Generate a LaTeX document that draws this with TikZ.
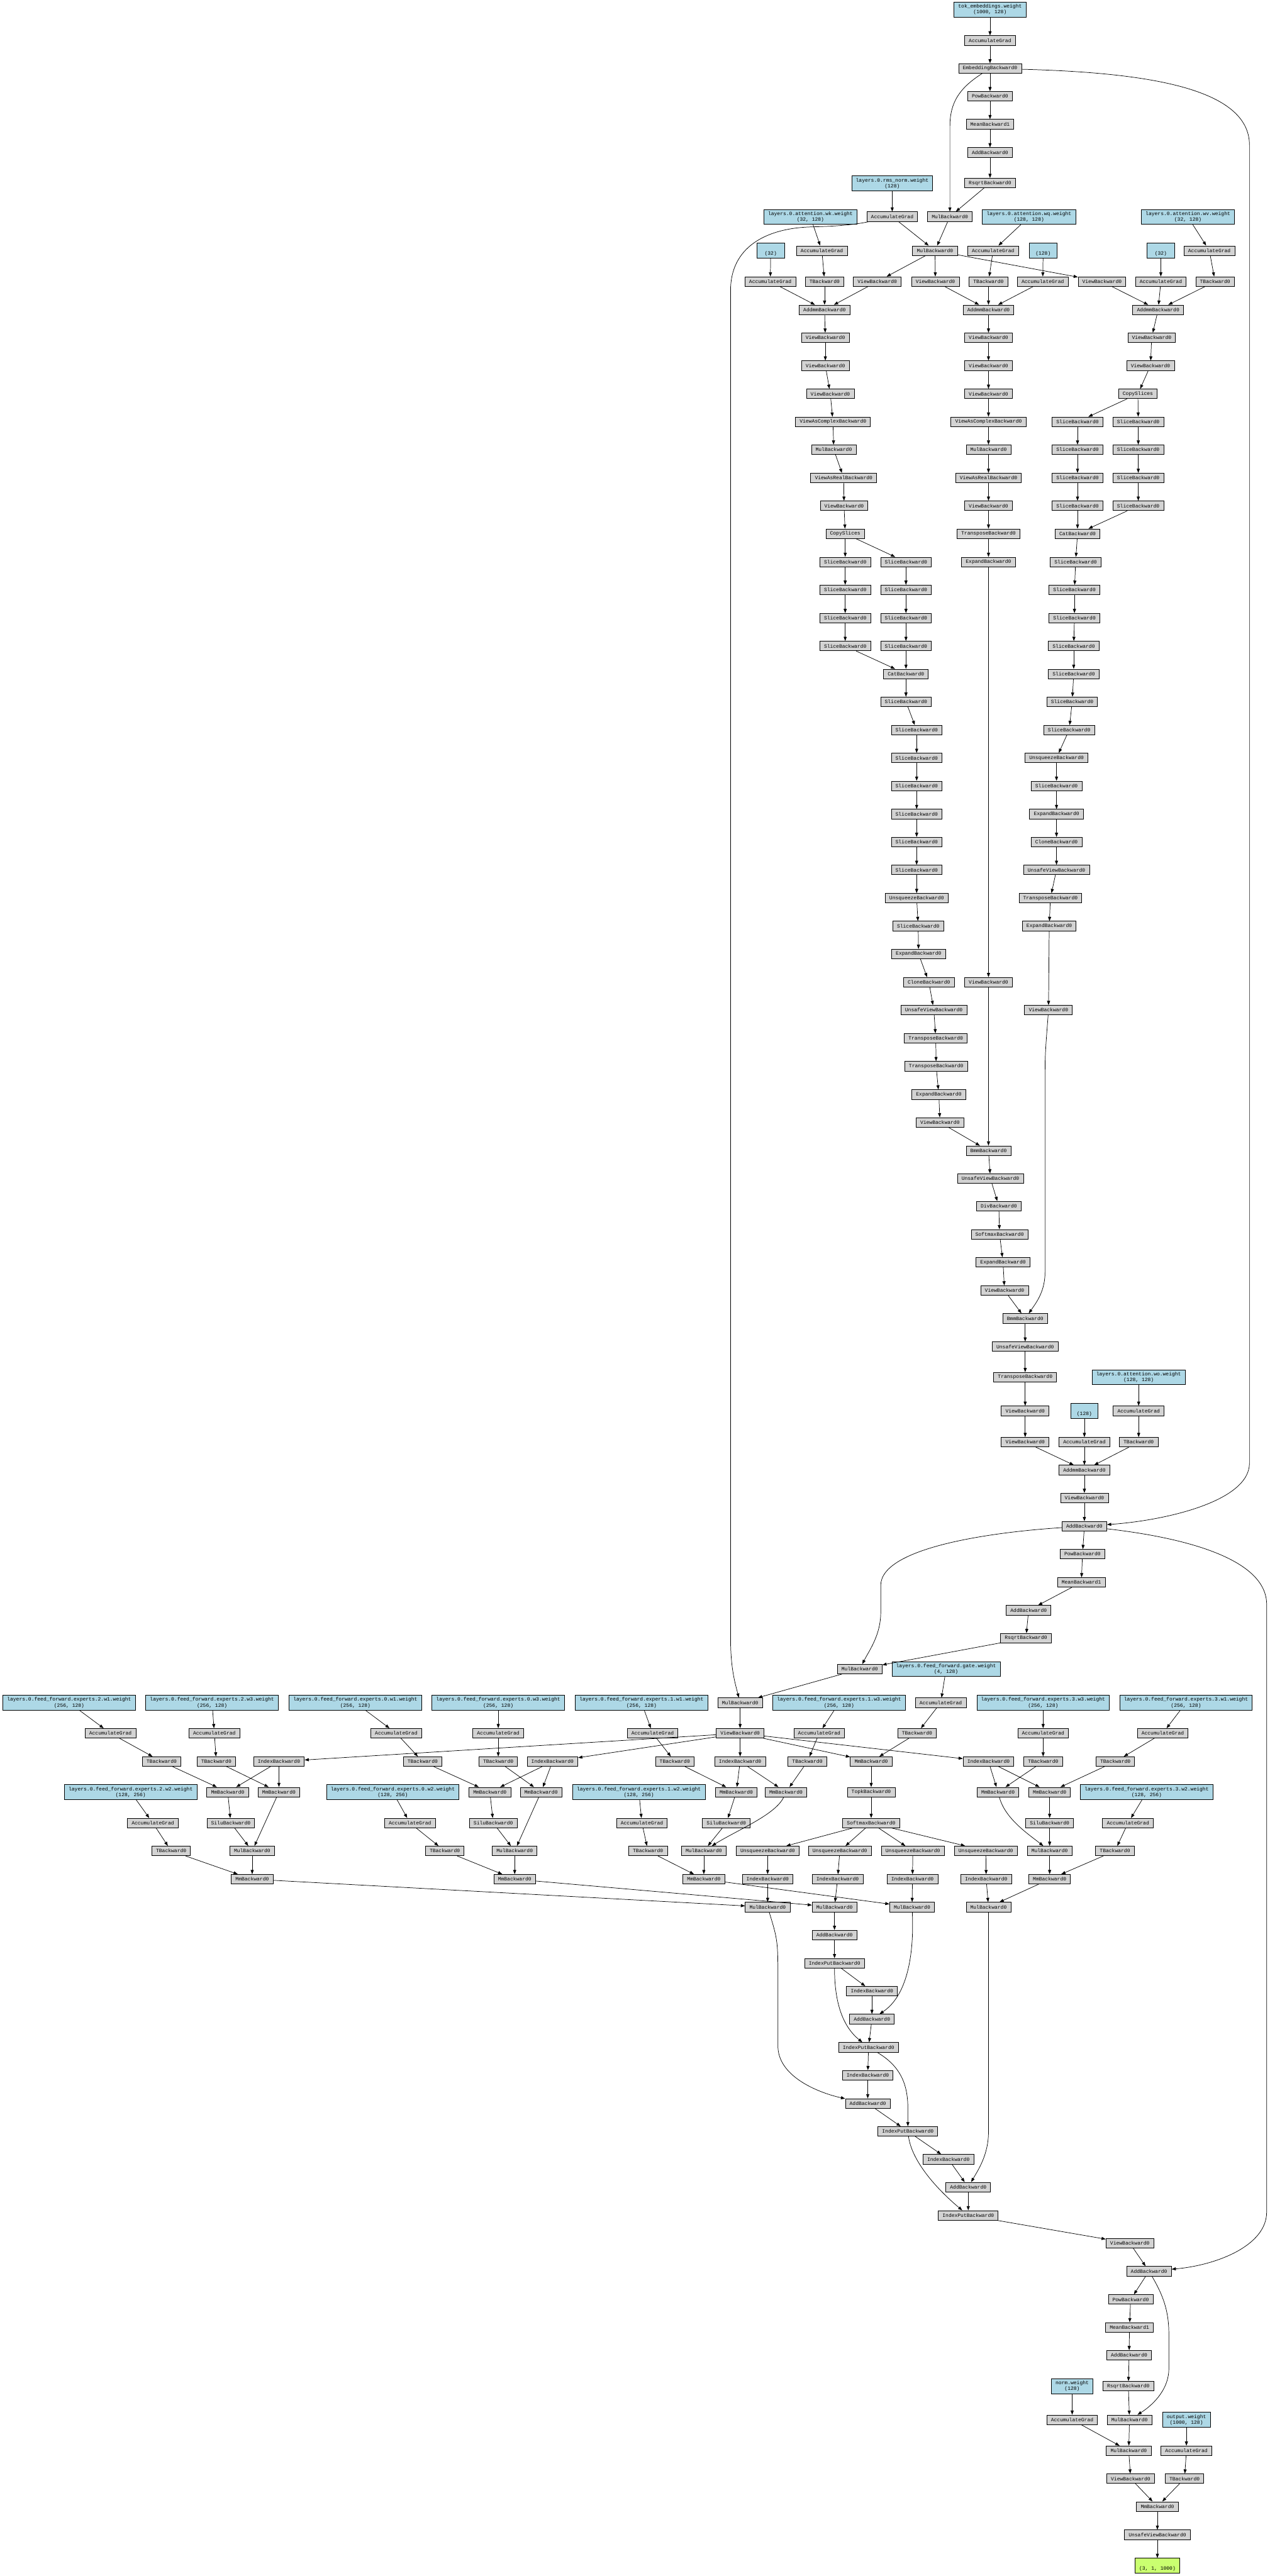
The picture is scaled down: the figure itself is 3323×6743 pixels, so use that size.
\documentclass[tikz,border=0pt]{standalone}
\usepackage{fontspec}
\newfontfamily\gvfont{Liberation Mono}
\usetikzlibrary{arrows.meta}
\definecolor{gvblue}{HTML}{ADD8E6}
\definecolor{gvgray}{HTML}{D3D3D3}
\definecolor{gvgreen}{HTML}{CAFF70}
\tikzset{
  gv/.style={draw, line width=1.3pt, fill=gvgray, font=\gvfont\fontsize{13.2}{15}\selectfont,
    inner xsep=11pt, inner ysep=0pt, minimum height=25pt},
  gb/.style={gv, fill=gvblue, align=center, minimum height=39pt, minimum width=72pt},
  gg/.style={gb, fill=gvgreen},
  e/.style={-{Triangle[length=11pt,width=8pt]}, line width=1.2pt}
}
\newcommand\gvn[4]{\node[gv] (#1) at (#2,#3) {#4};}
\newcommand\gvb[4]{\node[gb] (#1) at (#2,#3) {#4};}
\newcommand\gvw[4]{\gvb{#1}{#2}{#3}{layers.0.feed\_forward.experts.#4.weight\\(256, 128)}}
\newcommand\gvv[4]{\gvb{#1}{#2}{#3}{layers.0.feed\_forward.experts.#4.weight\\(128, 256)}}
\begin{document}
\begin{tikzpicture}[x=1pt,y=-1pt]
\useasboundingbox[fill=white] (0,0) rectangle (3323,6743);
% ---------------- top
\gvb{tok}{2591}{25}{tok\_embeddings.weight\\(1000, 128)}
\gvn{agtok}{2591}{106}{AccumulateGrad}
\gvn{emb}{2591}{179}{EmbeddingBackward0}
\gvn{pow1}{2591}{252}{PowBackward0}
\gvn{mean1}{2591}{325}{MeanBackward1}
\gvn{add1}{2591}{399}{AddBackward0}
\gvn{rsqrt1}{2591}{479}{RsqrtBackward0}
\gvb{rmsw}{2335}{480}{layers.0.rms\_norm.weight\\(128)}
\gvn{agrms}{2335}{567}{AccumulateGrad}
\gvn{mul1}{2486}{567}{MulBackward0}
\gvb{wkw}{2121}{568}{layers.0.attention.wk.weight\\(32, 128)}
\gvb{wqw}{2693}{568}{layers.0.attention.wq.weight\\(128, 128)}
\gvb{wvw}{3109}{568}{layers.0.attention.wv.weight\\(32, 128)}
\gvn{mul2}{2447}{656}{MulBackward0}
\gvn{agwk}{2151}{656}{AccumulateGrad}
\gvn{agwq}{2599}{656}{AccumulateGrad}
\gvn{agwv}{3165}{656}{AccumulateGrad}
\gvb{ba}{2017}{656}{\strut\\(32)}
\gvb{bq}{2730}{656}{\strut\\(128)}
\gvb{bv}{3038}{656}{\strut\\(32)}
\gvn{agba}{2016}{737}{AccumulateGrad}
\gvn{twk}{2158}{737}{TBackward0}
\gvn{viewk}{2296}{737}{ViewBackward0}
\gvn{viewq}{2448}{737}{ViewBackward0}
\gvn{twq}{2587}{737}{TBackward0}
\gvn{agbq}{2729}{737}{AccumulateGrad}
\gvn{viewv}{2884}{737}{ViewBackward0}
\gvn{agbv}{3038}{737}{AccumulateGrad}
\gvn{twv}{3180}{737}{TBackward0}
\gvn{addmmk}{2158}{811}{AddmmBackward0}
\gvn{addmmq}{2587}{811}{AddmmBackward0}
\gvn{addmmv}{3031}{811}{AddmmBackward0}
\gvn{viewka}{2160}{884}{ViewBackward0}
\gvn{viewqa}{2587}{884}{ViewBackward0}
\gvn{viewva}{3014}{884}{ViewBackward0}
% ---------------- rotary / cache
\gvn{viewkb}{2160}{957}{ViewBackward0}
\gvn{viewkc}{2173}{1031}{ViewBackward0}
\gvn{vack}{2180}{1104}{ViewAsComplexBackward0}
\gvn{mulk}{2182}{1177}{MulBackward0}
\gvn{vark}{2208}{1251}{ViewAsRealBackward0}
\gvn{viewkd}{2209}{1324}{ViewBackward0}
\gvn{copyk}{2212}{1397}{CopySlices}
\gvn{viewqb}{2587}{957}{ViewBackward0}
\gvn{viewqc}{2587}{1031}{ViewBackward0}
\gvn{vacq}{2587}{1104}{ViewAsComplexBackward0}
\gvn{mulq}{2587}{1177}{MulBackward0}
\gvn{varq}{2587}{1251}{ViewAsRealBackward0}
\gvn{viewqd}{2587}{1324}{ViewBackward0}
\gvn{trq}{2587}{1397}{TransposeBackward0}
\gvn{viewvb}{3011}{957}{ViewBackward0}
\gvn{copyv}{2978}{1031}{CopySlices}
\gvn{slva1}{2820}{1104}{SliceBackward0}
\gvn{slvb1}{2979}{1104}{SliceBackward0}
\gvn{slva2}{2820}{1177}{SliceBackward0}
\gvn{slvb2}{2979}{1177}{SliceBackward0}
\gvn{slva3}{2820}{1251}{SliceBackward0}
\gvn{slvb3}{2979}{1251}{SliceBackward0}
\gvn{slva4}{2820}{1324}{SliceBackward0}
\gvn{slvb4}{2979}{1324}{SliceBackward0}
\gvn{catv}{2820}{1397}{CatBackward0}
\gvn{slka1}{2212}{1471}{SliceBackward0}
\gvn{slkb1}{2371}{1471}{SliceBackward0}
\gvn{slka2}{2212}{1544}{SliceBackward0}
\gvn{slkb2}{2371}{1544}{SliceBackward0}
\gvn{slka3}{2212}{1618}{SliceBackward0}
\gvn{slkb3}{2371}{1618}{SliceBackward0}
\gvn{slka4}{2212}{1691}{SliceBackward0}
\gvn{slkb4}{2371}{1691}{SliceBackward0}
\gvn{catk}{2371}{1764}{CatBackward0}
\gvn{slk3}{2371}{1837}{SliceBackward0}
\gvn{slk4}{2399}{1911}{SliceBackward0}
\gvn{slk5}{2399}{1984}{SliceBackward0}
\gvn{slk6}{2399}{2057}{SliceBackward0}
\gvn{slk7}{2399}{2131}{SliceBackward0}
\gvn{slk8}{2399}{2204}{SliceBackward0}
\gvn{slk9}{2399}{2277}{SliceBackward0}
\gvn{expq}{2587}{1471}{ExpandBackward0}
\gvn{slv3}{2815}{1471}{SliceBackward0}
\gvn{slv4}{2812}{1544}{SliceBackward0}
\gvn{slv5}{2812}{1618}{SliceBackward0}
\gvn{slv6}{2810}{1691}{SliceBackward0}
\gvn{slv7}{2810}{1764}{SliceBackward0}
\gvn{slv8}{2806}{1837}{SliceBackward0}
\gvn{slv9}{2798}{1911}{SliceBackward0}
\gvn{unsqv}{2765}{1984}{UnsqueezeBackward0}
\gvn{slv10}{2765}{2057}{SliceBackward0}
\gvn{expv}{2765}{2131}{ExpandBackward0}
\gvn{clonev}{2765}{2204}{CloneBackward0}
\gvn{uvv}{2765}{2277}{UnsafeViewBackward0}
\gvn{unsqk}{2399}{2351}{UnsqueezeBackward0}
\gvn{slk10}{2403}{2424}{SliceBackward0}
\gvn{expk}{2404}{2497}{ExpandBackward0}
\gvn{clonek}{2431}{2571}{CloneBackward0}
\gvn{uvk}{2444}{2644}{UnsafeViewBackward0}
\gvn{trka}{2449}{2718}{TransposeBackward0}
\gvn{trkb}{2450}{2791}{TransposeBackward0}
\gvn{expkb}{2457}{2865}{ExpandBackward0}
\gvn{viewke}{2460}{2938}{ViewBackward0}
\gvn{viewqe}{2587}{2571}{ViewBackward0}
\gvn{bmma}{2587}{3012}{BmmBackward0}
\gvn{uva}{2592}{3085}{UnsafeViewBackward0}
\gvn{trv}{2749}{2351}{TransposeBackward0}
\gvn{expvb}{2746}{2424}{ExpandBackward0}
\gvn{viewvc}{2744}{2644}{ViewBackward0}
% ---------------- attention tail
\gvn{div}{2614}{3157}{DivBackward0}
\gvn{sma}{2616}{3231}{SoftmaxBackward0}
\gvn{exps}{2625}{3304}{ExpandBackward0}
\gvn{views}{2629}{3378}{ViewBackward0}
\gvn{bmmb}{2683}{3451}{BmmBackward0}
\gvn{uvb}{2683}{3525}{UnsafeViewBackward0}
\gvn{tro}{2683}{3605}{TransposeBackward0}
\gvn{viewoa}{2683}{3693}{ViewBackward0}
\gvn{viewob}{2683}{3775}{ViewBackward0}
\gvb{wow}{2980}{3605}{layers.0.attention.wo.weight\\(128, 128)}
\gvb{bo}{2838}{3693}{\strut\\(128)}
\gvn{agwo}{2980}{3693}{AccumulateGrad}
\gvn{agbo}{2838}{3775}{AccumulateGrad}
\gvn{two}{2980}{3775}{TBackward0}
\gvn{addmmo}{2838}{3848}{AddmmBackward0}
\gvn{viewoc}{2838}{3921}{ViewBackward0}
\gvn{addres1}{2838}{3995}{AddBackward0}
% ---------------- ffn norm + gate
\gvn{pow2}{2833}{4068}{PowBackward0}
\gvn{mean2}{2830}{4142}{MeanBackward1}
\gvn{add2}{2692}{4215}{AddBackward0}
\gvn{rsqrt2}{2685}{4288}{RsqrtBackward0}
\gvn{mul3}{2250}{4369}{MulBackward0}
\gvb{gatew}{2476}{4369}{layers.0.feed\_forward.gate.weight\\(4, 128)}
\gvn{mul4}{1937}{4457}{MulBackward0}
\gvn{viewf}{1937}{4537}{ViewBackward0}
\gvn{aggate}{2462}{4457}{AccumulateGrad}
\gvn{tgate}{2400}{4537}{TBackward0}
\gvn{mmgate}{2280}{4611}{MmBackward0}
\gvn{topk}{2280}{4691}{TopkBackward0}
\gvn{sm2}{2280}{4772}{SoftmaxBackward0}
% ---------------- experts weights
\gvw{e2w1}{181}{4457}{2.w1}
\gvw{e2w3}{555}{4457}{2.w3}
\gvw{e0w1}{930}{4457}{0.w1}
\gvw{e0w3}{1304}{4457}{0.w3}
\gvw{e1w1}{1679}{4457}{1.w1}
\gvw{e1w3}{2196}{4457}{1.w3}
\gvw{e3w3}{2730}{4457}{3.w3}
\gvw{e3w1}{3104}{4457}{3.w1}
\gvv{e2w2}{342}{4691}{2.w2}
\gvv{e0w2}{1028}{4691}{0.w2}
\gvv{e1w2}{1672}{4691}{1.w2}
\gvv{e3w2}{3001}{4691}{3.w2}
\gvn{age2w1}{289}{4537}{AccumulateGrad}
\gvn{age2w3}{561}{4537}{AccumulateGrad}
\gvn{age0w1}{1037}{4537}{AccumulateGrad}
\gvn{age0w3}{1304}{4537}{AccumulateGrad}
\gvn{age1w1}{1708}{4537}{AccumulateGrad}
\gvn{age1w3}{2144}{4537}{AccumulateGrad}
\gvn{age3w3}{2730}{4537}{AccumulateGrad}
\gvn{age3w1}{3043}{4537}{AccumulateGrad}
\gvn{te2w1}{423}{4611}{TBackward0}
\gvn{te2w3}{566}{4611}{TBackward0}
\gvn{idx2}{730}{4611}{IndexBackward0}
\gvn{te0w1}{1106}{4611}{TBackward0}
\gvn{te0w3}{1304}{4611}{TBackward0}
\gvn{idx0}{1446}{4611}{IndexBackward0}
\gvn{te1w1}{1766}{4611}{TBackward0}
\gvn{idx1}{1937}{4611}{IndexBackward0}
\gvn{te1w3}{2113}{4611}{TBackward0}
\gvn{idx3}{2587}{4611}{IndexBackward0}
\gvn{te3w3}{2730}{4611}{TBackward0}
\gvn{te3w1}{2919}{4611}{TBackward0}
\gvn{mme2a}{596}{4691}{MmBackward0}
\gvn{mme2b}{730}{4691}{MmBackward0}
\gvn{mme0a}{1282}{4691}{MmBackward0}
\gvn{mme0b}{1416}{4691}{MmBackward0}
\gvn{mme1a}{1927}{4691}{MmBackward0}
\gvn{mme1b}{2057}{4691}{MmBackward0}
\gvn{mme3a}{2612}{4691}{MmBackward0}
\gvn{mme3b}{2747}{4691}{MmBackward0}
\gvn{age2w2}{400}{4772}{AccumulateGrad}
\gvn{silue2}{604}{4772}{SiluBackward0}
\gvn{age0w2}{1073}{4772}{AccumulateGrad}
\gvn{silue0}{1291}{4772}{SiluBackward0}
\gvn{age1w2}{1680}{4772}{AccumulateGrad}
\gvn{silue1}{1901}{4772}{SiluBackward0}
\gvn{silue3}{2747}{4772}{SiluBackward0}
\gvn{age3w2}{2952}{4772}{AccumulateGrad}
\gvn{te2w2}{448}{4845}{TBackward0}
\gvn{mulxe2}{660}{4845}{MulBackward0}
\gvn{te0w2}{1164}{4845}{TBackward0}
\gvn{mulxe0}{1347}{4845}{MulBackward0}
\gvn{te1w2}{1696}{4845}{TBackward0}
\gvn{mulxe1}{1842}{4845}{MulBackward0}
\gvn{unsqa}{2009}{4845}{UnsqueezeBackward0}
\gvn{unsqb}{2198}{4845}{UnsqueezeBackward0}
\gvn{unsqc}{2389}{4845}{UnsqueezeBackward0}
\gvn{unsqd}{2580}{4845}{UnsqueezeBackward0}
\gvn{mulxe3}{2747}{4845}{MulBackward0}
\gvn{te3w2}{2918}{4845}{TBackward0}
\gvn{mme2c}{660}{4919}{MmBackward0}
\gvn{mme0c}{1347}{4919}{MmBackward0}
\gvn{mme1c}{1842}{4919}{MmBackward0}
\gvn{idxua}{2009}{4919}{IndexBackward0}
\gvn{idxub}{2192}{4919}{IndexBackward0}
\gvn{idxuc}{2388}{4919}{IndexBackward0}
\gvn{idxud}{2581}{4919}{IndexBackward0}
\gvn{mme3c}{2747}{4919}{MmBackward0}
\gvn{mwa}{2009}{4992}{MulBackward0}
\gvn{mwb}{2184}{4992}{MulBackward0}
\gvn{mwc}{2387}{4992}{MulBackward0}
\gvn{mwd}{2587}{4992}{MulBackward0}
\gvn{addma}{2184}{5065}{AddBackward0}
\gvn{ipa}{2184}{5139}{IndexPutBackward0}
\gvn{idxpa}{2282}{5212}{IndexBackward0}
\gvn{addmb}{2282}{5285}{AddBackward0}
\gvn{ipb}{2273}{5359}{IndexPutBackward0}
\gvn{idxpb}{2271}{5432}{IndexBackward0}
\gvn{addmc}{2271}{5506}{AddBackward0}
\gvn{ipc}{2376}{5579}{IndexPutBackward0}
\gvn{idxpc}{2482}{5652}{IndexBackward0}
\gvn{addmd}{2534}{5725}{AddBackward0}
\gvn{ipd}{2534}{5799}{IndexPutBackward0}
\gvn{viewm}{2957}{5872}{ViewBackward0}
% ---------------- final norm + output
\gvn{addres2}{3007}{5945}{AddBackward0}
\gvn{pow3}{2959}{6019}{PowBackward0}
\gvn{mean3}{2956}{6092}{MeanBackward1}
\gvn{add3}{2955}{6165}{AddBackward0}
\gvn{rsqrt3}{2953}{6246}{RsqrtBackward0}
\gvb{normw}{2806}{6246}{norm.weight\\(128)}
\gvn{agnorm}{2806}{6334}{AccumulateGrad}
\gvn{mul5}{2956}{6334}{MulBackward0}
\gvb{outw}{3105}{6334}{output.weight\\(1000, 128)}
\gvn{mul6}{2954}{6415}{MulBackward0}
\gvn{agout}{3105}{6415}{AccumulateGrad}
\gvn{viewl}{2959}{6488}{ViewBackward0}
\gvn{tout}{3100}{6488}{TBackward0}
\gvn{mmout}{3029}{6561}{MmBackward0}
\gvn{uvout}{3029}{6635}{UnsafeViewBackward0}
\node[gg] (final) at (3029,6716) {\strut\\(3, 1, 1000)};
% ---------------- straight edges
\foreach \a/\b in {tok/agtok, agtok/emb, emb/pow1, pow1/mean1, mean1/add1, add1/rsqrt1, rsqrt1/mul1, rmsw/agrms, agrms/mul2, mul1/mul2,
 wkw/agwk, agwk/twk, twk/addmmk, ba/agba, agba/addmmk, viewk/addmmk, mul2/viewk, mul2/viewq, mul2/viewv,
 wqw/agwq, agwq/twq, twq/addmmq, bq/agbq, agbq/addmmq, viewq/addmmq,
 wvw/agwv, agwv/twv, twv/addmmv, bv/agbv, agbv/addmmv, viewv/addmmv,
 addmmk/viewka, viewka/viewkb, viewkb/viewkc, viewkc/vack, vack/mulk, mulk/vark, vark/viewkd, viewkd/copyk,
 copyk/slka1, copyk/slkb1, slka1/slka2, slka2/slka3, slka3/slka4, slka4/catk, slkb1/slkb2, slkb2/slkb3, slkb3/slkb4, slkb4/catk,
 catk/slk3, slk3/slk4, slk4/slk5, slk5/slk6, slk6/slk7, slk7/slk8, slk8/slk9, slk9/unsqk, unsqk/slk10, slk10/expk, expk/clonek, clonek/uvk, uvk/trka, trka/trkb, trkb/expkb, expkb/viewke, viewke/bmma,
 addmmq/viewqa, viewqa/viewqb, viewqb/viewqc, viewqc/vacq, vacq/mulq, mulq/varq, varq/viewqd, viewqd/trq, trq/expq, expq/viewqe, viewqe/bmma,
 addmmv/viewva, viewva/viewvb, viewvb/copyv, copyv/slva1, copyv/slvb1, slva1/slva2, slva2/slva3, slva3/slva4, slva4/catv, slvb1/slvb2, slvb2/slvb3, slvb3/slvb4, slvb4/catv,
 catv/slv3, slv3/slv4, slv4/slv5, slv5/slv6, slv6/slv7, slv7/slv8, slv8/slv9, slv9/unsqv, unsqv/slv10, slv10/expv, expv/clonev, clonev/uvv, uvv/trv, trv/expvb, expvb/viewvc,
 bmma/uva, uva/div, div/sma, sma/exps, exps/views, views/bmmb, bmmb/uvb, uvb/tro, tro/viewoa, viewoa/viewob, viewob/addmmo, bo/agbo, agbo/addmmo, wow/agwo, agwo/two, two/addmmo, addmmo/viewoc, viewoc/addres1,
 addres1/pow2, pow2/mean2, mean2/add2, add2/rsqrt2, rsqrt2/mul3, mul3/mul4, mul4/viewf,
 viewf/idx0, viewf/idx2, viewf/idx1, viewf/mmgate, viewf/idx3,
 gatew/aggate, aggate/tgate, tgate/mmgate, mmgate/topk, topk/sm2, sm2/unsqa, sm2/unsqb, sm2/unsqc, sm2/unsqd,
 unsqa/idxua, unsqb/idxub, unsqc/idxuc, unsqd/idxud, idxua/mwa, idxub/mwb, idxuc/mwc, idxud/mwd,
 e2w1/age2w1, age2w1/te2w1, te2w1/mme2a, idx2/mme2a, idx2/mme2b, e2w3/age2w3, age2w3/te2w3, te2w3/mme2b, mme2a/silue2, silue2/mulxe2, mme2b/mulxe2, e2w2/age2w2, age2w2/te2w2, te2w2/mme2c, mulxe2/mme2c, mme2c/mwa,
 e0w1/age0w1, age0w1/te0w1, te0w1/mme0a, idx0/mme0a, idx0/mme0b, e0w3/age0w3, age0w3/te0w3, te0w3/mme0b, mme0a/silue0, silue0/mulxe0, mme0b/mulxe0, e0w2/age0w2, age0w2/te0w2, te0w2/mme0c, mulxe0/mme0c, mme0c/mwb,
 e1w1/age1w1, age1w1/te1w1, te1w1/mme1a, idx1/mme1a, idx1/mme1b, e1w3/age1w3, age1w3/te1w3, te1w3/mme1b, mme1a/silue1, silue1/mulxe1, e1w2/age1w2, age1w2/te1w2, te1w2/mme1c, mulxe1/mme1c, mme1c/mwc,
 e3w1/age3w1, age3w1/te3w1, te3w1/mme3b, e3w3/age3w3, age3w3/te3w3, te3w3/mme3a, idx3/mme3a, idx3/mme3b, mme3b/silue3, silue3/mulxe3, e3w2/age3w2, age3w2/te3w2, te3w2/mme3c, mulxe3/mme3c, mme3c/mwd,
 mwb/addma, addma/ipa, ipa/idxpa, idxpa/addmb, addmb/ipb, ipb/idxpb, idxpb/addmc, addmc/ipc, ipc/idxpc, idxpc/addmd, addmd/ipd, ipd/viewm, viewm/addres2,
 addres2/pow3, pow3/mean3, mean3/add3, add3/rsqrt3, rsqrt3/mul5, normw/agnorm, agnorm/mul6, mul5/mul6, mul6/viewl, viewl/mmout, outw/agout, agout/tout, tout/mmout, mmout/uvout, uvout/final}
 \draw[e] (\a) -- (\b);
% ---------------- curved edges
\draw[e] (emb) .. controls (2520,225) and (2486,260) .. (2486,330) -- (mul1);
\draw[e] (emb) .. controls (3000,190) and (3270,230) .. (3270,380) -- (3270,3830) .. controls (3270,3930) and (3050,3980) .. (addres1);
\draw[e] (agrms) .. controls (2220,592) and (2150,593) .. (2121,594) .. controls (2000,598) and (1912,650) .. (1912,760) -- (1912,4290) .. controls (1912,4370) and (1925,4410) .. (mul4);
\draw[e] (viewvc) .. controls (2740,2700) and (2735,2750) .. (2735,2800) -- (2735,3330) .. controls (2735,3380) and (2712,3410) .. (bmmb);
\draw[e] (addres1) .. controls (2600,4010) and (2305,4050) .. (2305,4150) -- (2305,4220) .. controls (2305,4280) and (2275,4320) .. (mul3);
\draw[e] (addres1) .. controls (3100,4025) and (3315,4080) .. (3315,4200) -- (3315,5790) .. controls (3315,5880) and (3180,5930) .. (addres2);
\draw[e] (addres2) .. controls (3045,6010) and (3059,6050) .. (3059,6110) -- (3059,6200) .. controls (3059,6260) and (3010,6300) .. (mul5);
\draw[e] (mme1b) .. controls (2030,4750) and (1930,4790) .. (mulxe1);
\draw[e] (mme3a) .. controls (2630,4760) and (2690,4800) .. (mulxe3);
\draw[e] (ipa) .. controls (2184,5230) and (2200,5300) .. (ipb);
\draw[e] (mwc) .. controls (2392,5100) and (2380,5220) .. (addmb);
\draw[e] (mwa) .. controls (2036,5080) .. (2036,5200) -- (2036,5360) .. controls (2040,5440) and (2150,5480) .. (addmc);
\draw[e] (ipb) .. controls (2360,5410) and (2376,5460) .. (2376,5520) -- (ipc);
\draw[e] (mwd) -- (2587,5580) .. controls (2587,5640) and (2560,5680) .. (addmd);
\draw[e] (ipc) .. controls (2385,5650) and (2440,5720) .. (ipd);
\end{tikzpicture}
\end{document}
